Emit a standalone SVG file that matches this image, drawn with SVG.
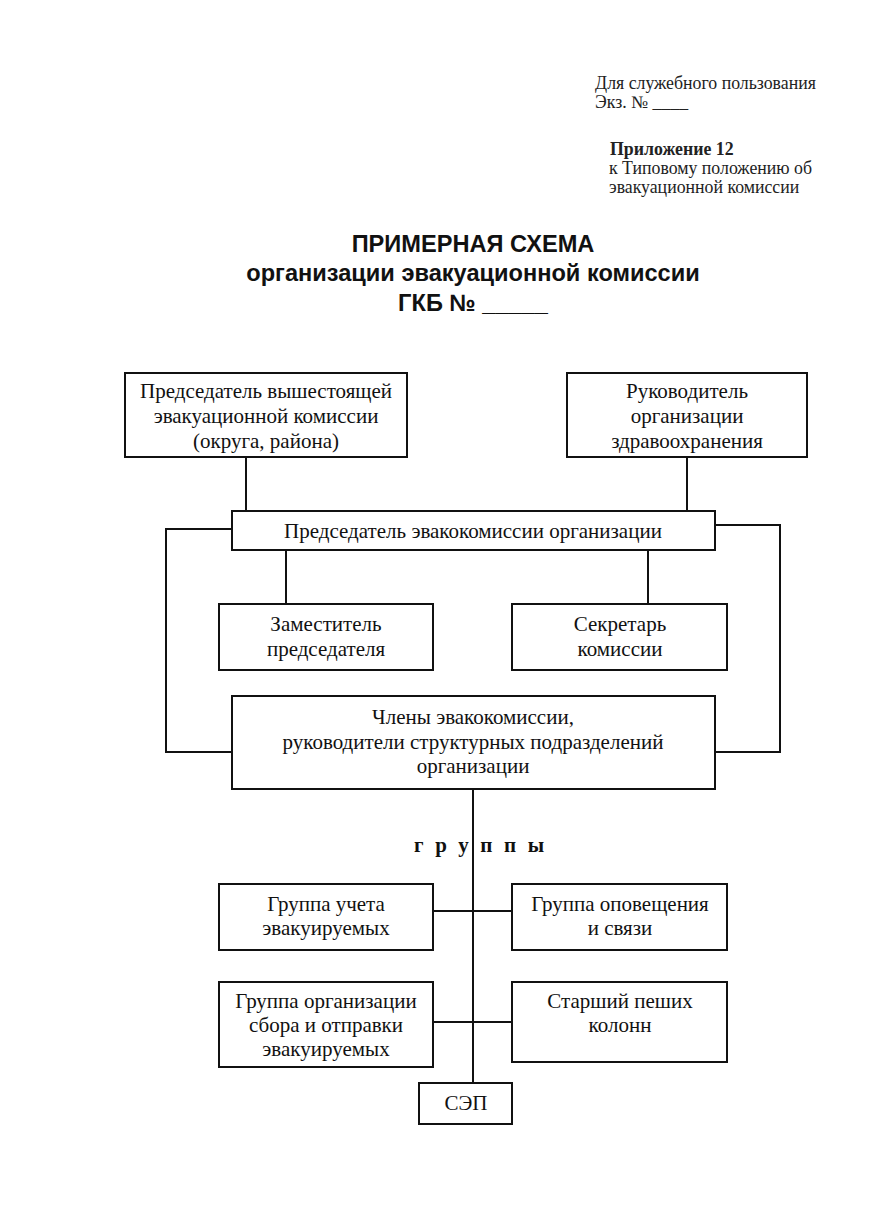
<svg xmlns="http://www.w3.org/2000/svg" width="885" height="1231" viewBox="0 0 885 1231">
<style>
.box{fill:#fff;stroke:#111;stroke-width:2}
.ln{fill:none;stroke:#111;stroke-width:2}
.t{font-family:"Liberation Serif","DejaVu Serif",serif;font-size:21px;fill:#111;text-anchor:middle}
.h{font-family:"Liberation Serif","DejaVu Serif",serif;font-size:17.8px;fill:#222}
.ttl{font-family:"Liberation Sans",Arial,sans-serif;font-size:23.6px;font-weight:bold;fill:#111;text-anchor:middle}
.grp{font-family:"Liberation Serif","DejaVu Serif",serif;font-size:21px;font-weight:bold;fill:#111;letter-spacing:11.6px}
</style>
<rect width="885" height="1231" fill="#fff"/>
<g id="header">
<text class="h" x="595" y="89">Для служебного пользования</text>
<text class="h" x="595" y="108">Экз. № ____</text>
<text class="h" x="610" y="155" font-weight="bold">Приложение 12</text>
<text class="h" x="609" y="174">к Типовому положению об</text>
<text class="h" x="609" y="193">эвакуационной комиссии</text>
</g>
<g id="title">
<text class="ttl" x="473" y="252">ПРИМЕРНАЯ СХЕМА</text>
<text class="ttl" x="473" y="281">организации эвакуационной комиссии</text>
<text class="ttl" x="473" y="311">ГКБ № _____</text>
</g>
<g id="connectors">
<line class="ln" x1="246" y1="457" x2="246" y2="511"/>
<line class="ln" x1="687" y1="457" x2="687" y2="511"/>
<polyline class="ln" points="232,529 166,529 166,752 232,752"/>
<polyline class="ln" points="715,525 780,525 780,752 715,752"/>
<line class="ln" x1="286" y1="550" x2="286" y2="604"/>
<line class="ln" x1="648" y1="550" x2="648" y2="604"/>
<line class="ln" x1="473" y1="789" x2="473" y2="1083"/>
<line class="ln" x1="433" y1="911" x2="512" y2="911"/>
<line class="ln" x1="433" y1="1022" x2="512" y2="1022"/>
</g>
<g id="n1">
<rect class="box" x="125" y="373" width="282" height="84"/>
<text class="t" x="266" y="398">Председатель вышестоящей</text>
<text class="t" x="266" y="423">эвакуационной комиссии</text>
<text class="t" x="266" y="448">(округа, района)</text>
</g>
<g id="n2">
<rect class="box" x="567" y="373" width="240" height="84"/>
<text class="t" x="687" y="398">Руководитель</text>
<text class="t" x="687" y="423">организации</text>
<text class="t" x="687" y="448">здравоохранения</text>
</g>
<g id="n3">
<rect class="box" x="232" y="511" width="483" height="39"/>
<text class="t" x="473" y="538">Председатель эвакокомиссии организации</text>
</g>
<g id="n4">
<rect class="box" x="219" y="604" width="214" height="66"/>
<text class="t" x="326" y="631">Заместитель</text>
<text class="t" x="326" y="656">председателя</text>
</g>
<g id="n5">
<rect class="box" x="512" y="604" width="215" height="66"/>
<text class="t" x="620" y="631">Секретарь</text>
<text class="t" x="620" y="656">комиссии</text>
</g>
<g id="n6">
<rect class="box" x="232" y="696" width="483" height="93"/>
<text class="t" x="473" y="724">Члены эвакокомиссии,</text>
<text class="t" x="473" y="749">руководители структурных подразделений</text>
<text class="t" x="473" y="773">организации</text>
</g>
<text class="grp" x="414" y="852">группы</text>
<g id="n7">
<rect class="box" x="219" y="884" width="214" height="66"/>
<text class="t" x="326" y="911">Группа учета</text>
<text class="t" x="326" y="935">эвакуируемых</text>
</g>
<g id="n8">
<rect class="box" x="512" y="884" width="215" height="66"/>
<text class="t" x="620" y="911">Группа оповещения</text>
<text class="t" x="620" y="935">и связи</text>
</g>
<g id="n9">
<rect class="box" x="219" y="982" width="214" height="85"/>
<text class="t" x="326" y="1008">Группа организации</text>
<text class="t" x="326" y="1032">сбора и отправки</text>
<text class="t" x="326" y="1056">эвакуируемых</text>
</g>
<g id="n10">
<rect class="box" x="512" y="982" width="215" height="80"/>
<text class="t" x="620" y="1008">Старший пеших</text>
<text class="t" x="620" y="1032">колонн</text>
</g>
<g id="n11">
<rect class="box" x="419" y="1083" width="93" height="41"/>
<text class="t" x="466" y="1110" font-size="18.5">СЭП</text>
</g>
</svg>
